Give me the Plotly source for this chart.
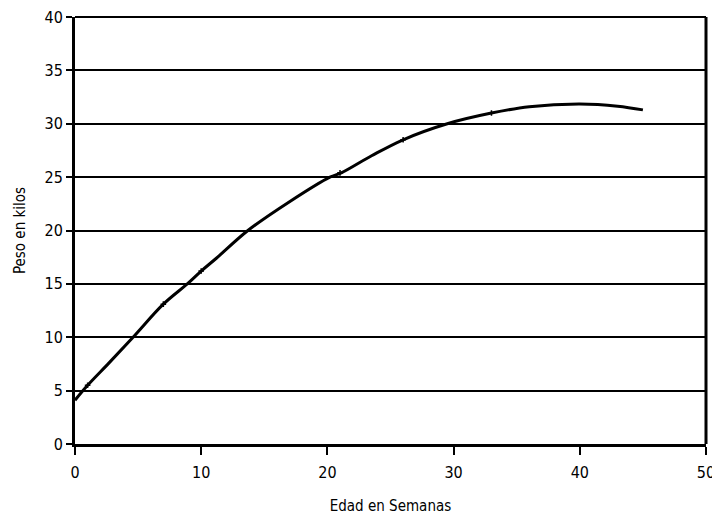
import plotly.graph_objects as go

weeks = [0, 1, 2.7, 4.6, 7, 8.9, 10, 11.2, 13.7, 17, 20.2, 21.1, 23.5, 26, 29.5, 33, 36, 40, 43, 45]
weight = [4.1, 5.5, 7.6, 10.0, 13.1, 15.0, 16.2, 17.4, 20.0, 22.7, 25.0, 25.4, 27.0, 28.5, 30.0, 31.0, 31.6, 31.85, 31.65, 31.3]

marker_weeks = [1, 7, 10, 21, 26, 33]
marker_weight = [5.5, 13.1, 16.2, 25.4, 28.5, 31.0]

x_ticks = [0, 10, 20, 30, 40, 50]
y_ticks = [0, 5, 10, 15, 20, 25, 30, 35, 40]

fig = go.Figure()
fig.add_trace(go.Scatter(x=weeks, y=weight, mode="lines",
                         line=dict(color="black", width=3, shape="spline", smoothing=1.0),
                         showlegend=False, hoverinfo="skip"))
fig.add_trace(go.Scatter(x=marker_weeks, y=marker_weight, mode="markers",
                         marker=dict(symbol="cross-thin", size=4, color="black",
                                     line=dict(color="black", width=1.5)),
                         showlegend=False))

tick_font = dict(family="DejaVu Sans Condensed, Liberation Sans, sans-serif", size=16, color="black")
title_font = dict(family="DejaVu Sans Condensed, Liberation Sans, sans-serif", size=15, color="black")
# page body has an 8px margin: size the figure so it fills the window exactly
fig.update_layout(
    width=712, height=507,
    margin=dict(l=67, r=14, t=9, b=71),
    paper_bgcolor="white", plot_bgcolor="white",
    font=tick_font,
    xaxis=dict(range=[0, 50], tickvals=x_ticks, showgrid=False,
               zeroline=False, showline=True, linecolor="black", linewidth=3,
               ticks="outside", ticklen=8, tickwidth=1.5, tickcolor="black", automargin=False,
               tickfont=tick_font, ticklabelstandoff=4, ticklabeloverflow="allow",
               title=dict(text="Edad en Semanas", font=title_font, standoff=26)),
    yaxis=dict(range=[0, 40], tickvals=y_ticks, showgrid=True,
               gridcolor="black", gridwidth=2, zeroline=False,
               showline=True, linecolor="black", linewidth=3, automargin=False,
               ticks="outside", ticklen=6, tickwidth=1.5, tickcolor="black",
               tickfont=tick_font, ticklabeloverflow="allow",
               title=dict(text="Peso en kilos", font=title_font, standoff=16)),
)
fig.add_shape(type="line", xref="paper", yref="paper", x0=1, x1=1, y0=0, y1=1,
              line=dict(color="black", width=3))
fig.add_shape(type="line", xref="paper", yref="paper", x0=0, x1=1, y0=1, y1=1,
              line=dict(color="black", width=2))
fig.write_html("out.html")
